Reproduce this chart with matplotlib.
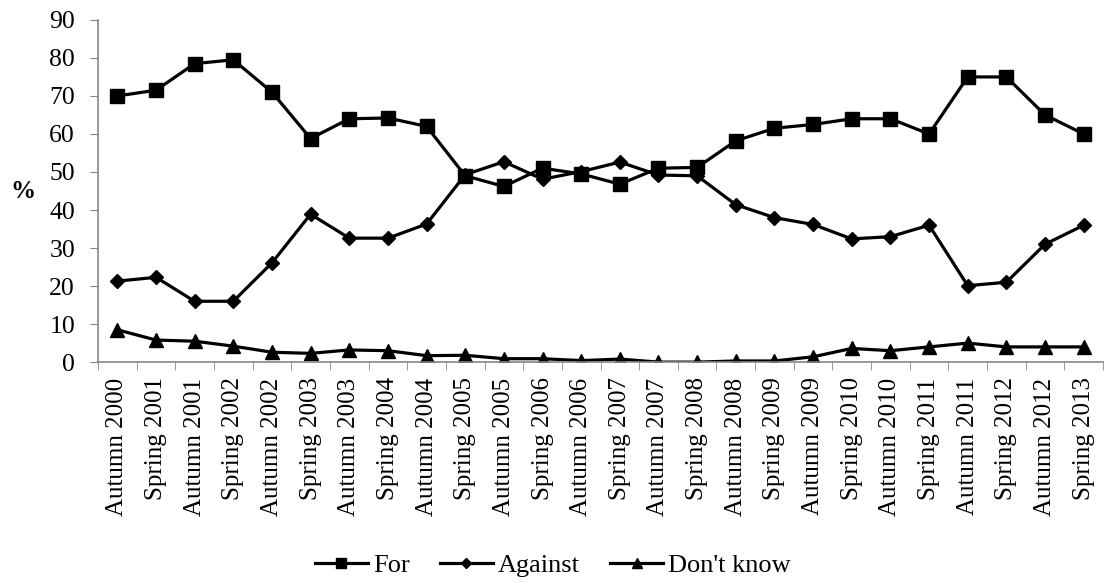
import matplotlib
matplotlib.use("Agg")
import matplotlib.pyplot as plt
import numpy as np

# data
periods = ["Autumn 2000", "Spring 2001", "Autumn 2001", "Spring 2002", "Autumn 2002",
           "Spring 2003", "Autumn 2003", "Spring 2004", "Autumn 2004", "Spring 2005",
           "Autumn 2005", "Spring 2006", "Autumn 2006", "Spring 2007", "Autumn 2007",
           "Spring 2008", "Autumn 2008", "Spring 2009", "Autumn 2009", "Spring 2010",
           "Autumn 2010", "Spring 2011", "Autumn 2011", "Spring 2012", "Autumn 2012",
           "Spring 2013"]
for_vals = [70, 71.5, 78.5, 79.5, 71, 58.8, 64, 64.2, 62, 49,
            46.2, 51, 49.5, 46.8, 51, 51.2, 58.2, 61.5, 62.5, 64,
            64, 60, 75, 75, 65, 60]
against_vals = [21.3, 22.3, 16, 16, 26.1, 38.9, 32.6, 32.6, 36.3, 49.3,
                52.7, 48.1, 50.1, 52.6, 49.2, 49, 41.4, 38, 36.2, 32.4,
                33, 36, 20.1, 21, 31, 36]
dontknow_vals = [8.5, 5.8, 5.5, 4.2, 2.6, 2.3, 3.2, 3.0, 1.7, 1.8,
                 0.9, 0.9, 0.4, 0.8, 0, 0, 0.3, 0.3, 1.4, 3.6,
                 3.0, 4.0, 5.0, 4.0, 4.0, 4.0]

plt.rcParams['font.family'] = ['Liberation Serif', 'DejaVu Serif']

fig = plt.figure(figsize=(11.06, 5.85), dpi=100)
ax = fig.add_axes([0.0886, 0.381, 0.9087, 0.585])

x = np.arange(len(periods))
ax.plot(x, for_vals, color='black', lw=2.3, marker='s', ms=9.5, label='For')
ax.plot(x, against_vals, color='black', lw=2.3, marker='D', ms=7, label='Against')
ax.plot(x, dontknow_vals, color='black', lw=2.3, marker='^', ms=10, label="Don't know")

ax.set_xlim(-0.5, len(periods) - 0.5)
ax.set_ylim(0, 90)
ax.set_yticks(range(0, 91, 10))
ax.tick_params(axis='y', labelsize=18.5, direction='out', length=6, color='#868686', pad=10.5)
ax.set_xticks(x)
ax.set_xticklabels(periods, rotation=90, fontsize=18)
ax.tick_params(axis='x', which='major', length=0, pad=11)
ax.set_xticks(np.arange(-0.5, len(periods), 1), minor=True)
ax.tick_params(axis='x', which='minor', direction='out', length=6, color='#868686')

for s in ['top', 'right']:
    ax.spines[s].set_visible(False)
for s in ['left', 'bottom']:
    ax.spines[s].set_color('#868686')
    ax.spines[s].set_linewidth(1.2)

ax.set_ylabel('%', rotation=0, fontsize=18, fontweight='bold', va='center', ha='center')
ax.yaxis.set_label_coords(-0.0746, 0.5)

fig.legend(loc='center', bbox_to_anchor=(0.5, 20 / 585), ncol=3, frameon=False,
           fontsize=19, handlelength=2.0, handletextpad=0.2, columnspacing=1.15,
           markerscale=0.7)

fig.savefig('out.png', dpi=100)
